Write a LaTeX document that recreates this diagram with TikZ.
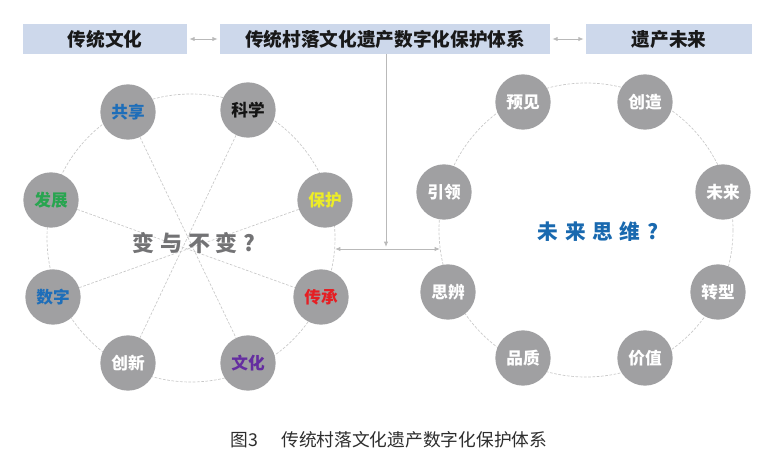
\documentclass[tikz,border=0pt]{standalone}
\usepackage{fontspec}
\newfontfamily\cjk{Noto Sans CJK SC}
\usetikzlibrary{arrows.meta}

\definecolor{txtblue}{RGB}{30,110,185}
\definecolor{txtblack}{RGB}{20,20,20}
\definecolor{txtyellow}{RGB}{236,236,40}
\definecolor{txtred}{RGB}{230,30,35}
\definecolor{txtpurple}{RGB}{100,45,160}
\definecolor{txtgreen}{RGB}{40,165,80}

\begin{document}
\begin{tikzpicture}[x=0.75pt,y=0.75pt,yscale=-1,xscale=1,
  headbox/.style={fill={rgb, 255:red, 205; green, 216; blue, 235 },minimum height=22.5pt,inner sep=0pt,font=\cjk\bfseries\fontsize{14}{16}\selectfont,text={rgb, 255:red, 25; green, 25; blue, 25 }},
  ball/.style={circle,fill={rgb, 255:red, 160; green, 160; blue, 162 },minimum size=41.5pt,inner sep=0pt,font=\cjk\bfseries\fontsize{12.5}{14}\selectfont},
  ring/.style={draw={rgb, 255:red, 200; green, 200; blue, 200 },line width=0.5pt,dash pattern=on 2pt off 1.2pt},
  link/.style={draw={rgb, 255:red, 185; green, 185; blue, 185 },line width=0.6pt,{Latex[length=4pt,width=3.2pt]}-{Latex[length=4pt,width=3.2pt]}},
  feed/.style={draw={rgb, 255:red, 185; green, 185; blue, 185 },line width=0.6pt,-{Latex[length=4pt,width=3.2pt]}},
]
\useasboundingbox (0,0) rectangle (771,468);

% Head Boxes
\node [headbox,minimum width=123pt] (trad) at (105,39) {传统文化};
\node [headbox,minimum width=247.5pt] (sys) at (385,39) {传统村落文化遗产数字化保护体系};
\node [headbox,minimum width=124.5pt] (futr) at (669,39) {遗产未来};

%Straight Lines
\draw [link,shorten <=1.5pt,shorten >=1.5pt] (trad) -- (sys);
\draw [link,shorten <=1.5pt,shorten >=1.5pt] (sys) -- (futr);

% Dashed Rings
\coordinate (lc) at (191,238);
\coordinate (rc) at (586,230);
\draw [ring] (lc) circle (144);
\draw [ring] (rc) circle (147);

% Left Ring Nodes
\foreach \nm/\pos/\txt/\tc in {gx/{(128,112)}/共享/txtblue, kx/{(248,110)}/科学/txtblack, bh/{(325,200)}/保护/txtyellow, cc/{(321,297)}/传承/txtred, wh/{(248,363)}/文化/txtpurple, cx/{(128,363)}/创新/white, sz/{(53,297)}/数字/txtblue, fz/{(51,200)}/发展/txtgreen}
  \node [ball,text=\tc] (\nm) at \pos {\txt};

% Right Ring Nodes
\foreach \nm/\pos/\txt in {yj/{(523,102)}/预见, cz/{(645,102)}/创造, wl/{(723,192)}/未来, zx/{(718,292)}/转型, jz/{(645,358)}/价值, pz/{(523,358)}/品质, sb/{(448,292)}/思辨, yl/{(444,192)}/引领}
  \node [ball,text=white] (\nm) at \pos {\txt};

% Spokes
\draw [ring] (gx) -- (wh);
\draw [ring] (kx) -- (cx);
\draw [ring] (fz) -- (cc);
\draw [ring] (bh) -- (sz);

% Text Node
\node [font=\cjk\bfseries\fontsize{16.5}{19}\selectfont,text={rgb, 255:red, 115; green, 115; blue, 117 }] (ask) at (194,243) {\addfontfeatures{LetterSpace=26}变与不变?};
% Text Node
\node [font=\cjk\bfseries\fontsize{15.5}{18}\selectfont,text={rgb, 255:red, 25; green, 105; blue, 175 }] (think) at (598,232) {\addfontfeatures{LetterSpace=32}未来思维?};

% Joining Lines
\coordinate (hub) at (386,249);
\coordinate (lend) at (335,249);
\coordinate (rend) at (440,249);
\draw [feed,shorten >=1.5pt] (sys.south -| hub) -- (hub);
\draw [link] (lend) -- (rend);

% Caption
\node [font=\cjk\fontsize{13.3}{16}\selectfont,text={rgb, 255:red, 45; green, 45; blue, 45 }] (cap) at (389,440) {图3\hspace{1.3em}传统村落文化遗产数字化保护体系};

\end{tikzpicture}
\end{document}
